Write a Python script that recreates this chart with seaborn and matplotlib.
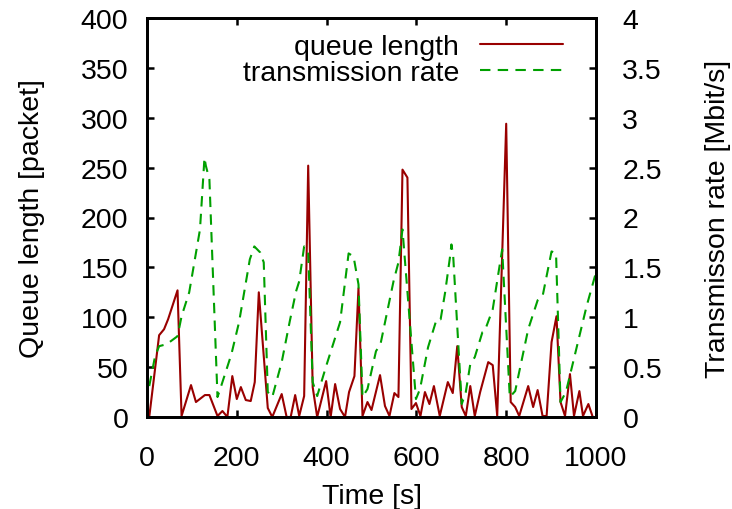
import numpy as np
import pandas as pd
import matplotlib
matplotlib.use("Agg")
import matplotlib.pyplot as plt
import seaborn as sns
from matplotlib.ticker import FuncFormatter

# queue length samples [s], [packet]
queue_t = [5, 27, 38, 47, 68, 77, 98, 109, 129, 139, 157, 168, 179, 190, 200, 209,
           220, 231, 240, 249, 269, 279, 300, 311, 320, 330, 339, 350, 359, 369, 379,
           399, 409, 419, 430, 441, 450, 462, 471, 480, 491, 500, 519, 530, 540, 551,
           560, 569, 580, 589, 599, 609, 619, 629, 639, 652, 670, 681, 691, 701, 710,
           720, 730, 742, 760, 770, 780, 800, 810, 820, 829, 849, 860, 870, 881, 890,
           901, 912, 921, 931, 942, 951, 963, 971, 983, 992]
queue_len = [0, 82, 88, 98, 127, 1, 32, 15, 22, 22, 1, 6, 0, 41, 18, 30,
             17, 16, 35, 125, 9, 0, 23, 0, 0, 22, 1, 21, 252, 30, 0,
             36, 0, 33, 8, 0, 25, 41, 129, 1, 15, 7, 42, 11, 1, 24,
             20, 248, 240, 8, 14, 1, 25, 13, 31, 1, 35, 24, 71, 10, 1,
             31, 1, 25, 55, 52, 1, 294, 15, 10, 1, 31, 10, 27, 1, 1,
             75, 101, 15, 1, 43, 1, 26, 1, 13, 1]

# transmission rate samples [s], [Mbit/s]
rate_t = [5, 18, 27, 44, 68, 77, 94, 118, 128, 131, 139, 157, 163, 188, 205, 229,
          239, 252, 260, 269, 279, 300, 318, 332, 339, 350, 359, 369, 379, 399, 430,
          449, 460, 471, 480, 491, 510, 520, 549, 560, 569, 599, 608, 626, 645, 654,
          664, 675, 678, 682, 701, 710, 720, 730, 747, 752, 770, 791, 808, 820, 849,
          870, 881, 901, 911, 921, 933, 979, 1000]
rate = [0.31, 0.61, 0.71, 0.73, 0.81, 1.01, 1.25, 1.88, 2.6, 2.52, 2.38, 0.2, 0.28, 0.63, 0.95, 1.58,
        1.71, 1.65, 1.55, 0.25, 0.2, 0.55, 0.96, 1.26, 1.36, 1.71, 1.65, 0.35, 0.21, 0.51, 0.95,
        1.64, 1.61, 1.33, 0.2, 0.28, 0.66, 0.73, 1.36, 1.55, 1.88, 0.18, 0.28, 0.7, 0.98, 0.98,
        1.25, 1.61, 1.73, 1.61, 0.13, 0.25, 0.53, 0.6, 0.85, 0.86, 1.08, 1.68, 0.2, 0.26, 0.88,
        1.17, 1.21, 1.66, 1.64, 0.15, 0.25, 1.11, 1.45]

RED = '#990000'
GREEN = '#00a000'
FS = 20.5

sns.set_style("ticks")
plt.rcParams.update({
    'font.family': ['Liberation Sans', 'DejaVu Sans'],
    'font.size': FS,
    'text.color': 'black',
    'axes.labelcolor': 'black',
    'xtick.color': 'black',
    'ytick.color': 'black',
    'axes.linewidth': 2.0,
    'xtick.direction': 'in',
    'ytick.direction': 'in',
    'xtick.major.size': 5,
    'ytick.major.size': 5,
    'xtick.major.width': 1.8,
    'ytick.major.width': 1.8,
})

df_q = pd.DataFrame({'t': queue_t, 'q': queue_len})
df_r = pd.DataFrame({'t': rate_t, 'r': rate})

fig = plt.figure(figsize=(7.32, 5.10), dpi=100)
ax = fig.add_axes([147 / 732, 1 - 418 / 510, 449 / 732, 399 / 510])
ax2 = ax.twinx()

sns.lineplot(data=df_q, x='t', y='q', ax=ax, color=RED, linewidth=1.5,
             label='queue length', legend=False)
sns.lineplot(data=df_r, x='t', y='r', ax=ax2, color=GREEN, linewidth=1.5,
             label='transmission rate', legend=False, linestyle=(0, (5, 3.5)))

ax.set_xlim(0, 1000)
ax.set_ylim(0, 400)
ax2.set_ylim(0, 4)
ax.set_xticks(np.arange(0, 1001, 200))
ax.set_yticks(np.arange(0, 401, 50))
ax2.set_yticks(np.arange(0, 4.01, 0.5))
ax2.yaxis.set_major_formatter(FuncFormatter(lambda v, p: '%g' % v))

ax.tick_params(axis='x', top=True, pad=20.5, labelsize=FS)
ax.tick_params(axis='y', left=True, right=False, pad=13.5, labelsize=FS)
ax2.tick_params(axis='y', right=True, pad=19, labelsize=FS)

for a in (ax, ax2):
    for s in a.spines.values():
        s.set_visible(True)
        s.set_linewidth(2.0)
        s.set_color('black')

ax.set_xlabel('Time [s]', fontsize=FS, labelpad=8)
ax.set_ylabel('Queue length [packet]', fontsize=FS, labelpad=26)
ax2.set_ylabel('Transmisson rate [Mbit/s]', fontsize=FS, labelpad=31)

h1, l1 = ax.get_legend_handles_labels()
h2, l2 = ax2.get_legend_handles_labels()
leg = ax2.legend(h1 + h2, l1 + l2, loc='upper right', frameon=False,
                 markerfirst=False, handlelength=2.9, handletextpad=0.75,
                 labelspacing=0.0, borderpad=0, borderaxespad=0,
                 bbox_to_anchor=((563 - 147) / 449, 0.96), fontsize=FS)

fig.savefig('out.png', dpi=100)
